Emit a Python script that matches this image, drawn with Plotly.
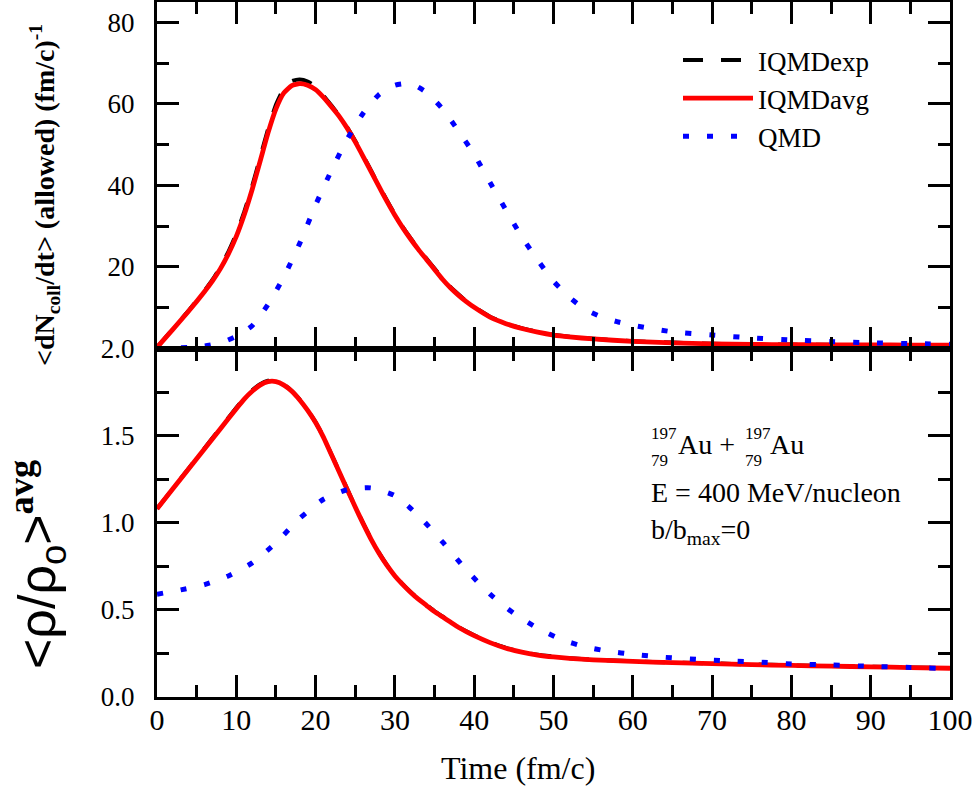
import plotly.graph_objects as go

# ---------------- data ----------------
# Top panel: <dN_coll/dt> (allowed) (fm/c)^-1
t_avg_top = [0, 2, 4, 6, 7, 8, 9, 10, 11, 12, 13, 14, 15, 16, 17, 18, 19, 20, 21, 22, 23, 24,
             25, 26, 27, 28, 29, 30, 31, 32, 33, 34, 35, 36, 37, 38, 39, 40, 42, 44, 46, 48,
             50, 52, 55, 60, 65, 70, 75, 80, 85, 90, 95, 100]
iqmd_avg_top = [0.3, 4.7, 9.2, 14.0, 16.6, 19.6, 23.2, 27.5, 32.8, 39.0, 45.9, 52.9, 58.8,
                62.7, 64.5, 65.0, 64.6, 63.5, 61.6, 59.3, 56.9, 54.0, 50.7, 47.1, 43.4, 39.7,
                36.1, 32.7, 29.6, 26.8, 24.2, 21.8, 19.4, 17.0, 14.9, 13.1, 11.5, 10.1, 7.7,
                6.1, 4.9, 4.0, 3.3, 2.85, 2.35, 1.75, 1.4, 1.15, 1.0, 0.95, 0.9, 0.87, 0.85, 0.82]
iqmd_exp_top = [0.3, 4.8, 9.3, 14.2, 16.9, 20.0, 23.7, 28.1, 33.5, 39.8, 46.8, 53.8, 59.8,
                63.8, 65.6, 66.0, 65.5, 64.2, 62.0, 59.6, 57.1, 54.2, 50.9, 47.3, 43.6, 39.9,
                36.3, 32.9, 29.8, 27.0, 24.4, 22.0, 19.6, 17.2, 15.1, 13.3, 11.6, 10.2, 7.8,
                6.2, 5.0, 4.1, 3.4, 2.9, 2.4, 1.8, 1.45, 1.18, 1.02, 0.96, 0.91, 0.88, 0.86, 0.83]
t_qmd_top = [0, 2, 4, 6, 8, 10, 12, 14, 16, 18, 20, 22, 24, 26, 28, 30, 32, 34, 36, 38, 40, 42,
             44, 46, 48, 50, 52, 54, 56, 58, 60, 62, 65, 70, 75, 80, 85, 90, 95, 100]
qmd_top = [0.0, 0.1, 0.3, 0.6, 1.4, 3.0, 5.6, 10.8, 17.6, 25.8, 35.2, 43.7, 51.4, 57.7, 62.3,
           64.6, 65.0, 62.8, 58.8, 53.4, 47.6, 40.7, 34.0, 27.4, 21.7, 16.5, 12.6, 9.6, 7.8,
           6.6, 5.7, 5.0, 4.1, 3.3, 2.6, 2.1, 1.7, 1.4, 1.2, 1.05]

# Bottom panel: <rho/rho_o>^avg
t_avg_bot = [0, 2, 4, 6, 8, 10, 11, 12, 13, 14, 15, 16, 17, 18, 19, 20, 21, 22, 23, 24, 25,
             26, 27, 28, 29, 30, 31, 32, 33, 34, 35, 36, 37, 38, 39, 40, 42, 44, 46, 48, 50,
             52, 55, 60, 65, 70, 75, 80, 85, 90, 95, 100]
iqmd_avg_bot = [1.08, 1.195, 1.31, 1.425, 1.54, 1.655, 1.71, 1.755, 1.79, 1.81, 1.81, 1.79,
                1.755, 1.705, 1.645, 1.575, 1.49, 1.39, 1.29, 1.19, 1.09, 0.995, 0.905, 0.825,
                0.755, 0.695, 0.645, 0.60, 0.56, 0.525, 0.49, 0.46, 0.43, 0.40, 0.375, 0.352,
                0.312, 0.28, 0.257, 0.241, 0.23, 0.222, 0.213, 0.204, 0.197, 0.192, 0.186,
                0.181, 0.177, 0.173, 0.169, 0.165]
iqmd_exp_bot = [1.08, 1.196, 1.312, 1.428, 1.544, 1.66, 1.715, 1.76, 1.795, 1.815, 1.814, 1.793,
                1.757, 1.707, 1.647, 1.577, 1.492, 1.392, 1.292, 1.192, 1.092, 0.997, 0.907,
                0.827, 0.757, 0.697, 0.647, 0.602, 0.562, 0.527, 0.492, 0.462, 0.432, 0.402,
                0.377, 0.354, 0.314, 0.282, 0.259, 0.243, 0.232, 0.223, 0.214, 0.205, 0.198,
                0.193, 0.187, 0.182, 0.178, 0.174, 0.17, 0.166]
t_qmd_bot = [0, 3, 6, 9, 12, 15, 18, 21, 24, 27, 30, 33, 36, 39, 42, 45, 48, 51, 54, 57, 60, 64,
             68, 72, 76, 80, 85, 90, 95, 100]
qmd_bot = [0.59, 0.615, 0.645, 0.695, 0.77, 0.885, 1.025, 1.135, 1.19, 1.20, 1.155, 1.04, 0.89,
           0.73, 0.59, 0.48, 0.395, 0.33, 0.288, 0.262, 0.245, 0.228, 0.216, 0.207, 0.20, 0.19,
           0.184, 0.176, 0.17, 0.163]

series_names = ["IQMDexp", "IQMDavg", "QMD"]

# ---------------- styles ----------------
SERIF = "Liberation Serif"
BLACK_DASH = dict(color="black", width=4, dash="20px,18px")
RED_SOLID = dict(color="#ff0000", width=4.8)
BLUE_DOT = dict(color="#0000ff", width=5, dash="6px,18px")

fig = go.Figure()

# top panel
fig.add_trace(go.Scatter(x=t_avg_top, y=iqmd_exp_top, name=series_names[0], mode="lines",
                         line=dict(shape="spline", smoothing=0.5, **BLACK_DASH),
                         xaxis="x", yaxis="y"))
fig.add_trace(go.Scatter(x=t_avg_top, y=iqmd_avg_top, name=series_names[1], mode="lines",
                         line=dict(shape="spline", smoothing=0.5, **RED_SOLID),
                         xaxis="x", yaxis="y"))
fig.add_trace(go.Scatter(x=t_qmd_top, y=qmd_top, name=series_names[2], mode="lines",
                         line=dict(shape="spline", smoothing=0.6, **BLUE_DOT),
                         xaxis="x", yaxis="y"))
# bottom panel
fig.add_trace(go.Scatter(x=t_avg_bot, y=iqmd_exp_bot, name=series_names[0], mode="lines",
                         line=dict(shape="spline", smoothing=0.5, **BLACK_DASH),
                         xaxis="x2", yaxis="y2", showlegend=False))
fig.add_trace(go.Scatter(x=t_avg_bot, y=iqmd_avg_bot, name=series_names[1], mode="lines",
                         line=dict(shape="spline", smoothing=0.5, **RED_SOLID),
                         xaxis="x2", yaxis="y2", showlegend=False))
fig.add_trace(go.Scatter(x=t_qmd_bot, y=qmd_bot, name=series_names[2], mode="lines",
                         line=dict(shape="spline", smoothing=0.6, **BLUE_DOT),
                         xaxis="x2", yaxis="y2", showlegend=False))

SPLIT = 0.5014
common_axis = dict(showline=True, linecolor="black", linewidth=3, mirror="allticks",
                   ticks="inside", ticklen=22, tickwidth=2.5, tickcolor="black",
                   showgrid=False, zeroline=False, automargin=False)

fig.update_layout(
    width=977, height=805,
    margin=dict(l=157, r=27, t=2, b=108, autoexpand=False),
    paper_bgcolor="white", plot_bgcolor="white",
    font=dict(family=SERIF, color="black"),
    xaxis=dict(domain=[0, 1], anchor="y", range=[0, 100], dtick=10, tick0=0,
               showticklabels=False, matches="x2",
               minor=dict(dtick=5, ticklen=12, tickwidth=2.5, tickcolor="black", ticks="inside"),
               **common_axis),
    yaxis=dict(domain=[SPLIT, 1], anchor="x", range=[0, 85],
               tickmode="array", tickvals=[0, 20, 40, 60, 80], ticktext=["", "20", "40", "60", "80"],
               tickfont=dict(family=SERIF, size=27, color="black"), ticklabelstandoff=14,
               minor=dict(tickmode="array", tickvals=[10, 30, 50, 70], ticklen=12, tickwidth=2.5,
                          tickcolor="black", ticks="inside"),
               **common_axis),
    xaxis2=dict(domain=[0, 1], anchor="y2", range=[0, 100], dtick=10, tick0=0,
                tickfont=dict(family=SERIF, size=30, color="black"), ticklabelstandoff=-6,
                minor=dict(dtick=5, ticklen=12, tickwidth=2.5, tickcolor="black", ticks="inside"),
                **common_axis),
    yaxis2=dict(domain=[0, SPLIT], anchor="x2", range=[0, 2], dtick=0.5, tick0=0,
                tickformat=".1f",
                tickfont=dict(family=SERIF, size=27, color="black"), ticklabelstandoff=14,
                minor=dict(dtick=0.25, ticklen=12, tickwidth=2.5, tickcolor="black", ticks="inside"),
                **common_axis),
    legend=dict(x=0.657, y=0.951, xanchor="left", yanchor="top",
                bgcolor="rgba(0,0,0,0)", borderwidth=0, itemwidth=70,
                font=dict(family=SERIF, size=27, color="black")),
)

ann = []
# axis titles
ann.append(dict(text="<b>&lt;dN<sub>coll</sub>/dt&gt; (allowed) (fm/c)<sup>-1</sup></b>",
                xref="paper", yref="paper", x=-0.142, y=0.723, xanchor="center", yanchor="middle",
                textangle=-90, showarrow=False, font=dict(family=SERIF, size=28, color="black")))
ann.append(dict(text="&lt;ρ/ρ<sub>o</sub>&gt;<sup><b><span style=\"font-family:Liberation Serif\">avg</span></b></sup>",
                xref="paper", yref="paper", x=-0.150, y=0.19, xanchor="center", yanchor="middle",
                textangle=-90, showarrow=False,
                font=dict(family="Liberation Sans", size=52, color="black")))
ann.append(dict(text="Time (fm/c)", xref="x2", yref="paper", x=45.5, y=-0.102,
                xanchor="center", yanchor="middle", showarrow=False,
                font=dict(family=SERIF, size=32, color="black")))

# reaction info (bottom panel)
small = dict(family=SERIF, size=17, color="black")
big = dict(family=SERIF, size=28, color="black")
ann += [
    dict(text="197", xref="x2", yref="y2", x=62.0, y=1.51, xanchor="left", yanchor="middle", showarrow=False, font=small),
    dict(text="79", xref="x2", yref="y2", x=62.0, y=1.355, xanchor="left", yanchor="middle", showarrow=False, font=small),
    dict(text="Au +", xref="x2", yref="y2", x=65.4, y=1.448, xanchor="left", yanchor="middle", showarrow=False, font=big),
    dict(text="197", xref="x2", yref="y2", x=73.9, y=1.51, xanchor="left", yanchor="middle", showarrow=False, font=small),
    dict(text="79", xref="x2", yref="y2", x=73.9, y=1.355, xanchor="left", yanchor="middle", showarrow=False, font=small),
    dict(text="Au", xref="x2", yref="y2", x=77.1, y=1.448, xanchor="left", yanchor="middle", showarrow=False, font=big),
    dict(text="E = 400 MeV/nucleon", xref="x2", yref="y2", x=62.0, y=1.176, xanchor="left", yanchor="middle", showarrow=False, font=big),
    dict(text="b/b<sub>max</sub>=0", xref="x2", yref="y2", x=62.0, y=0.95, xanchor="left", yanchor="middle", showarrow=False, font=big),
]
fig.update_layout(annotations=ann)

fig.write_html("out.html", config={"displayModeBar": False},
               post_script="document.body.style.margin='0px';")
